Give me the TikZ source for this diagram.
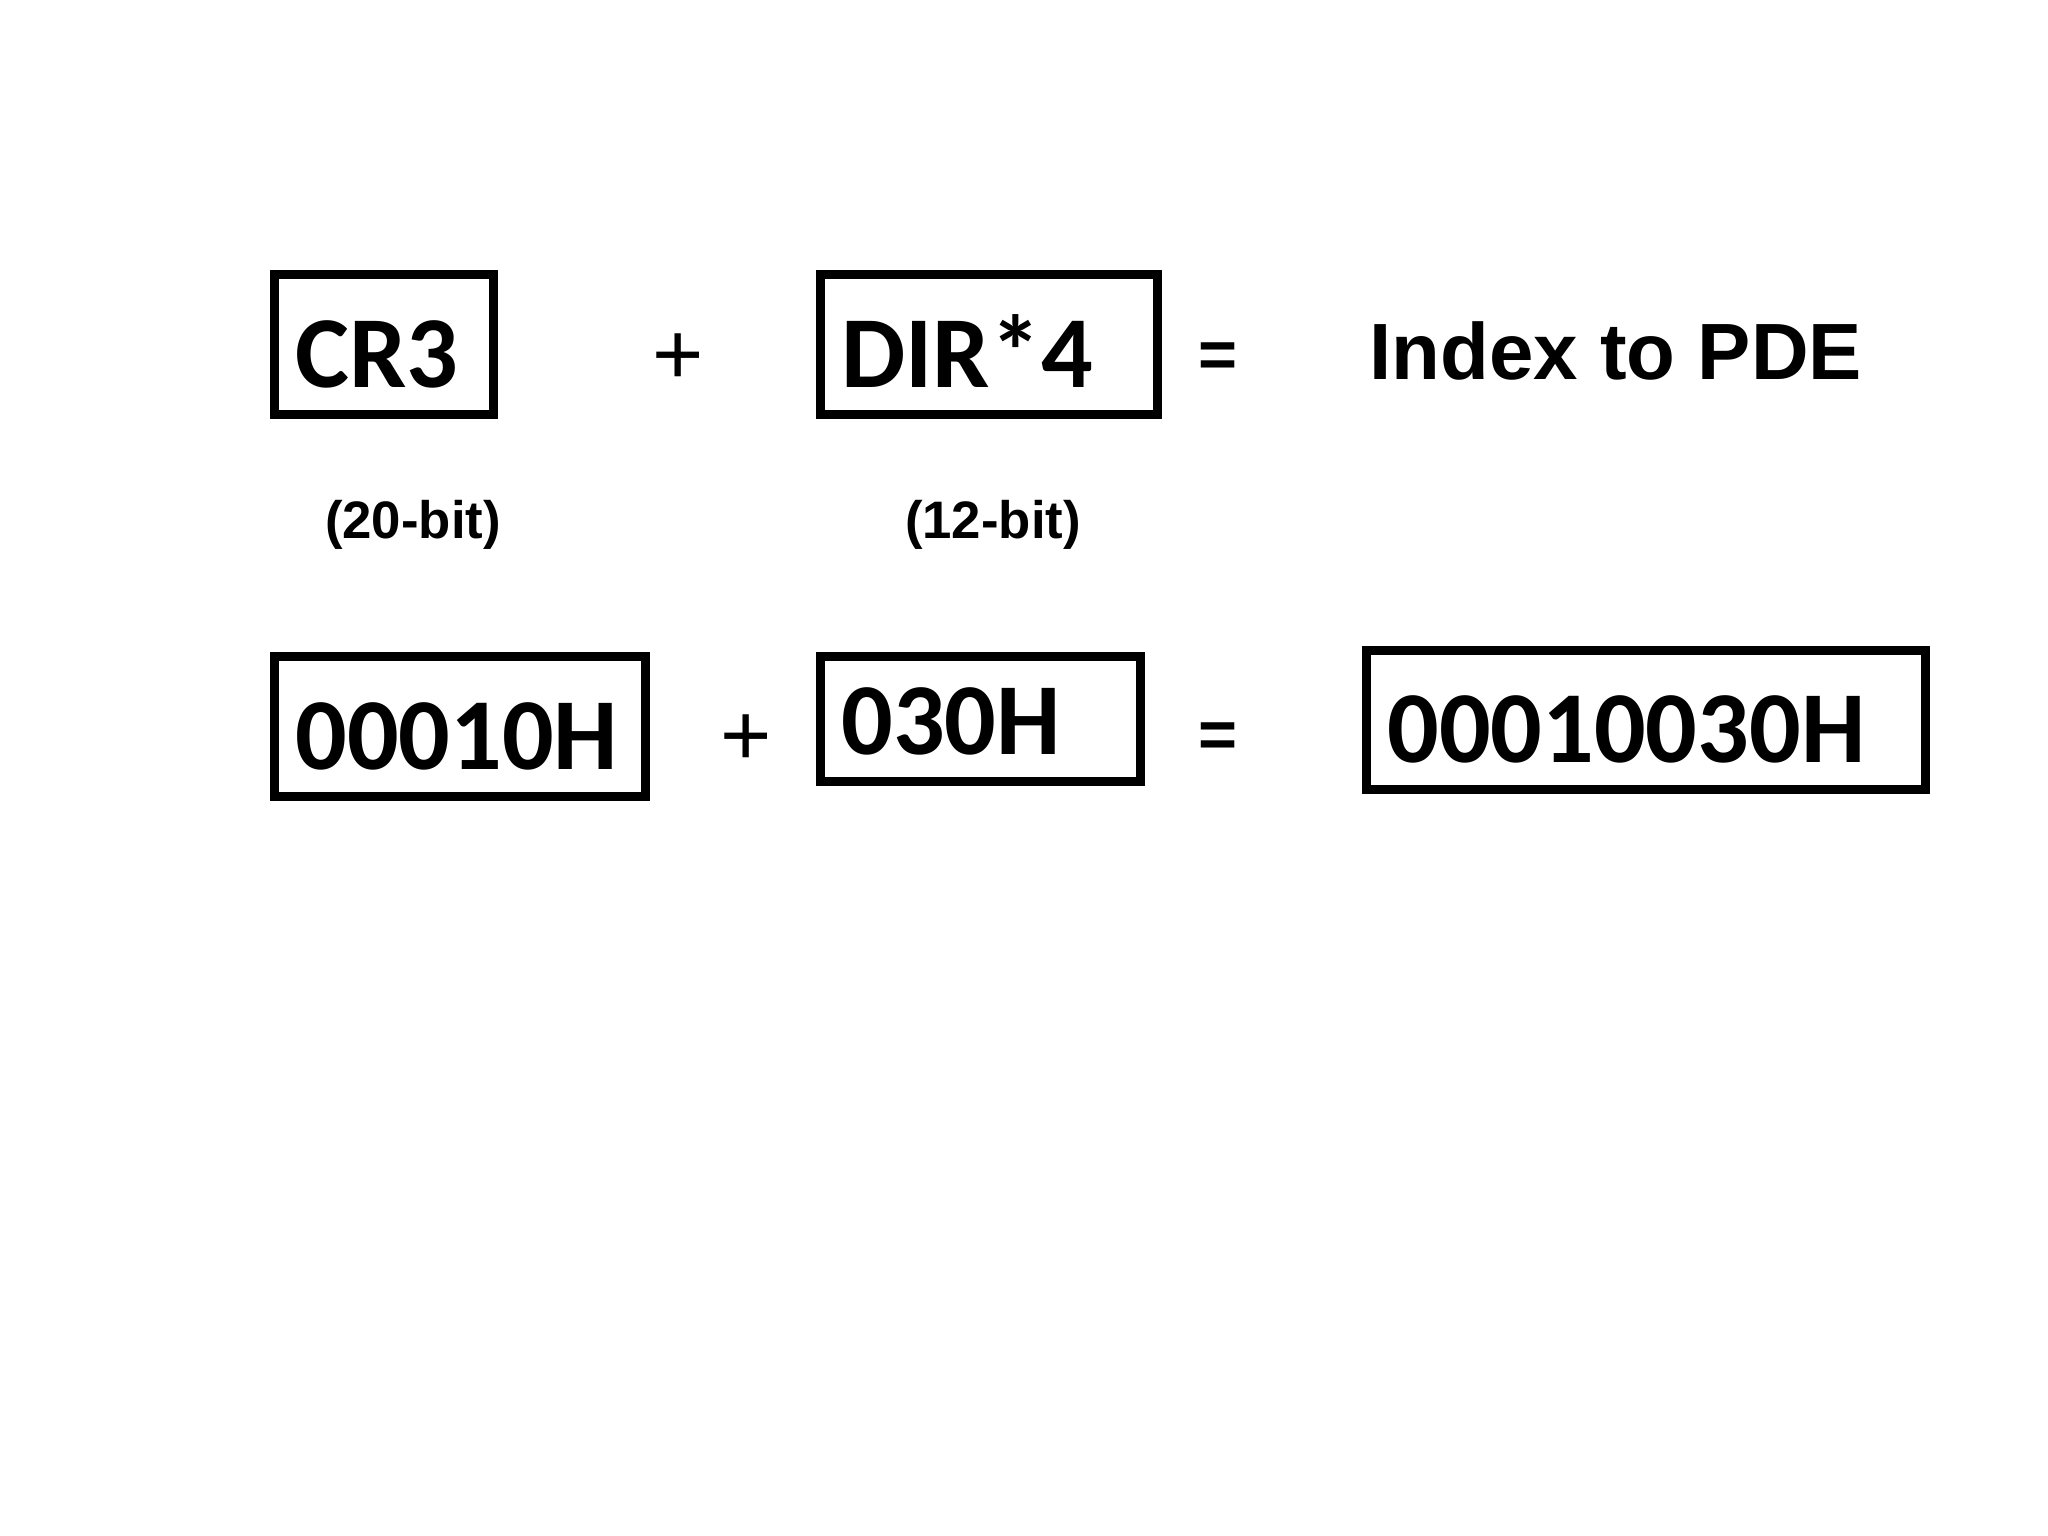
\documentclass[tikz,border=0pt]{standalone}
\usepackage{fontspec}
\newfontfamily\regfont{Carlito}
\newfontfamily\lblfont{Liberation Sans}
\usetikzlibrary{positioning}
\tikzset{
  % Register / value box
  regbox/.style={draw, line width=2.5pt, shape=rectangle, inner xsep=2.1mm,
    inner ysep=0pt, align=left, text height=24.2pt, text depth=0pt,
    font=\regfont\bfseries\fontsize{29}{29}\selectfont},
  % Operators
  plusop/.style={inner sep=0pt, font=\lblfont\fontsize{25}{25}\selectfont},
  eqop/.style={inner sep=0pt, font=\lblfont\bfseries\fontsize{19}{19}\selectfont},
  % Width notes
  bits/.style={inner sep=0pt, font=\lblfont\bfseries\fontsize{15}{15}\selectfont},
  % Result text
  res/.style={inner sep=0pt, font=\lblfont\bfseries\fontsize{22.7}{22.7}\selectfont},
}

\begin{document}
\begin{tikzpicture}[x=0.01cm, y=-0.01cm]
    \useasboundingbox (0,0) rectangle (2048,1536);

    % first row
    \node[regbox, minimum width=2.19cm, text width=1.77cm, minimum height=1.40cm]
      (cr3) at (384,344.5) {CR3};
    \node[plusop] (plusa) at (678.5,359.5) {+};
    \node[regbox, minimum width=3.37cm, text width=2.95cm, minimum height=1.40cm]
      (dir) at (989,344.5) {DIR*4};
    \node[eqop] (eqa) at (1217.5,360.5) {=};
    \node[res, anchor=west] (pde) at (1369,351) {Index to PDE};

    \node[bits] (cr3bits) at (413,525) {(20-bit)};
    \node[bits] (dirbits) at (993,525) {(12-bit)};

    % second row
    \node[regbox, minimum width=3.71cm, text width=3.29cm, minimum height=1.40cm]
      (seg) at (460,726.5) {00010H};
    \node[plusop] (plusb) at (746,740) {+};
    \node[regbox, minimum width=3.20cm, text width=2.78cm, minimum height=1.25cm,
      text height=20.2pt] (off) at (980.5,719) {030H};
    \node[eqop] (eqb) at (1217.5,740) {=};
    \node[regbox, minimum width=5.59cm, text width=5.17cm, minimum height=1.39cm]
      (sum) at (1646,720) {00010030H};
  \end{tikzpicture}
\end{document}
